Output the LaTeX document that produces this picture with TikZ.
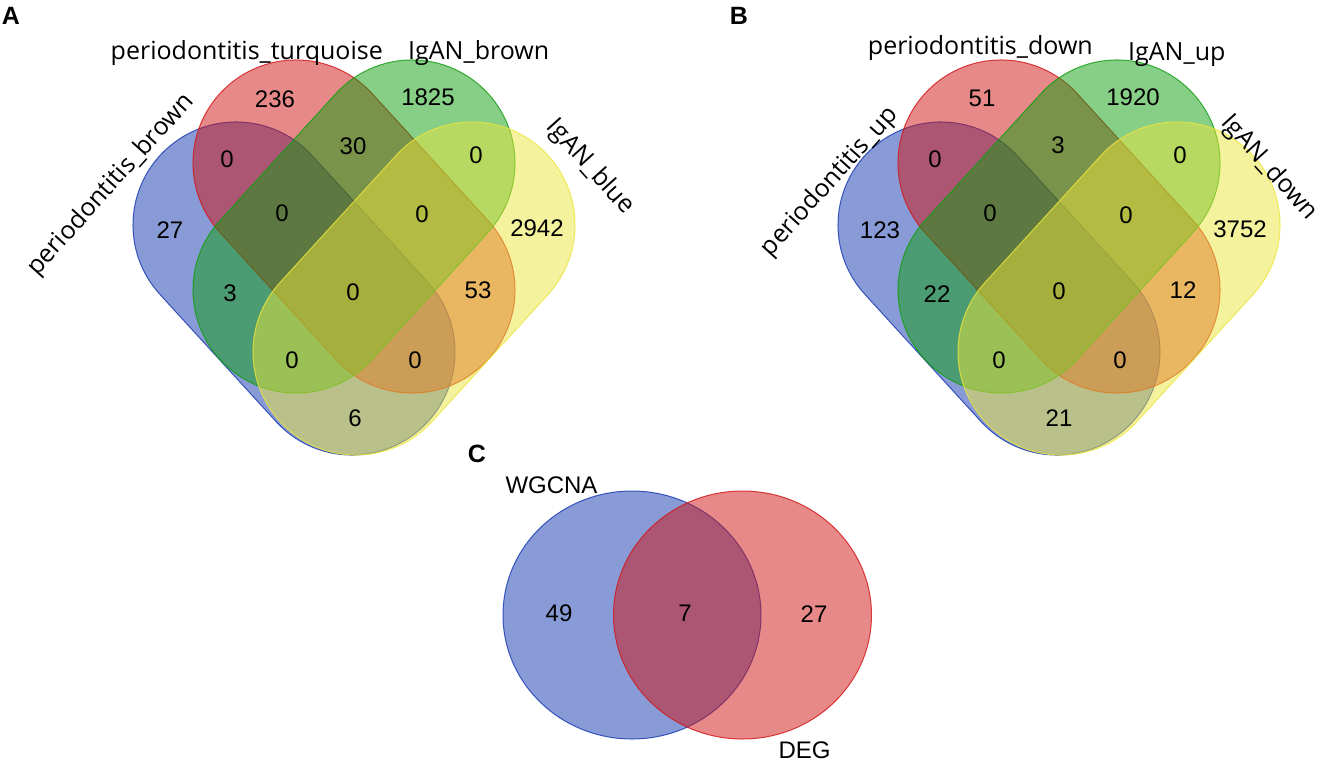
\documentclass[tikz,border=0pt]{standalone}
\usepackage{fontspec}
\setmainfont{Liberation Sans}
\newfontfamily\labelfont{Open Sans}
\definecolor{vblue}{RGB}{20,55,175}
\definecolor{vred}{RGB}{209,20,20}
\definecolor{vgreen}{RGB}{15,157,15}
\definecolor{vyellow}{RGB}{235,229,60}
% one rounded set of the four-set diagrams
\newcommand{\vennpill}[4]{%
	\begin{scope}[shift={(#1,#2)},rotate=#3]
		\path[pill=#4,rounded corners=102.9pt] (-189,-103) rectangle (189,103);
	\end{scope}}
\begin{document}
\begin{tikzpicture}[x=1pt,y=-1pt,
	pill/.style={fill=#1,fill opacity=0.5,draw=#1,draw opacity=0.8,line width=1pt},
	num/.style={inner sep=0pt,font=\fontsize{24}{28}\selectfont},
	setname/.style={inner sep=0pt,font=\labelfont\fontsize{25}{30}\selectfont},
	panel/.style={inner sep=0pt,font=\bfseries\fontsize{25}{30}\selectfont}]
	\useasboundingbox (0,0) rectangle (1323,761);

	% A
	\vennpill{294}{288.5}{-47.6}{vblue}
	\vennpill{354}{226.5}{-47.6}{vred}
	\vennpill{354}{226.5}{47.6}{vgreen}
	\vennpill{414}{288.5}{47.6}{vyellow}
	% B
	\vennpill{999}{288.5}{-47.6}{vblue}
	\vennpill{1059}{226.5}{-47.6}{vred}
	\vennpill{1059}{226.5}{47.6}{vgreen}
	\vennpill{1119}{288.5}{47.6}{vyellow}
	% C
	\path[pill=vblue] (632,615) ellipse[x radius=129,y radius=124];
	\path[pill=vred] (742.5,615) ellipse[x radius=129,y radius=124];

	\node[panel] (pa) at (11,15.5) {A};
	\node[panel] (pb) at (739,15.5) {B};
	\node[panel] (pc) at (477,454) {C};

	\node[setname,anchor=base east] (turq) at (383,59) {periodontitis\_turquoise};
	\node[setname,anchor=base west] (igbr) at (408,59) {IgAN\_brown};
	\node[setname,rotate=48] (pbrown) at (111,185) {periodontitis\_brown};
	\node[setname,rotate=-48] (igbl) at (590,167) {IgAN\_blue};

	\node[setname,anchor=base east] (pdown) at (1093,54) {periodontitis\_down};
	\node[setname,anchor=base west] (igup) at (1128,60) {IgAN\_up};
	\node[setname,rotate=48] (pup) at (830,182) {periodontitis\_up};
	\node[setname,rotate=-48] (igdown) at (1269,168) {IgAN\_down};

	\node[num] (wg) at (551.5,485) {WGCNA};
	\node[num] (deg) at (804.5,750) {DEG};

	\foreach \x/\y/\n [count=\i] in {275/99/236,428/97/1825,227/159/0,353/146/30,476/155/0,
		170/230/27,282/213/0,422/214/0,537/228/2942,230/293/3,353/292/0,478/290/53,
		292/360/0,415/360/0,355/418/6}
		\node[num] (a\i) at (\x,\y) {\n};
	\foreach \x/\y/\n [count=\i] in {982/98/51,1133/97/1920,935/159/0,1058/145/3,1180/155/0,
		880/230/123,990/213/0,1126/215/0,1240/229/3752,937/294/22,1059/291/0,1183/290/12,
		999/360/0,1120/360/0,1059/418/21}
		\node[num] (b\i) at (\x,\y) {\n};
	\foreach \x/\y/\n [count=\i] in {559/613/49,685/613/7,814/614/27}
		\node[num] (c\i) at (\x,\y) {\n};
\end{tikzpicture}
\end{document}
